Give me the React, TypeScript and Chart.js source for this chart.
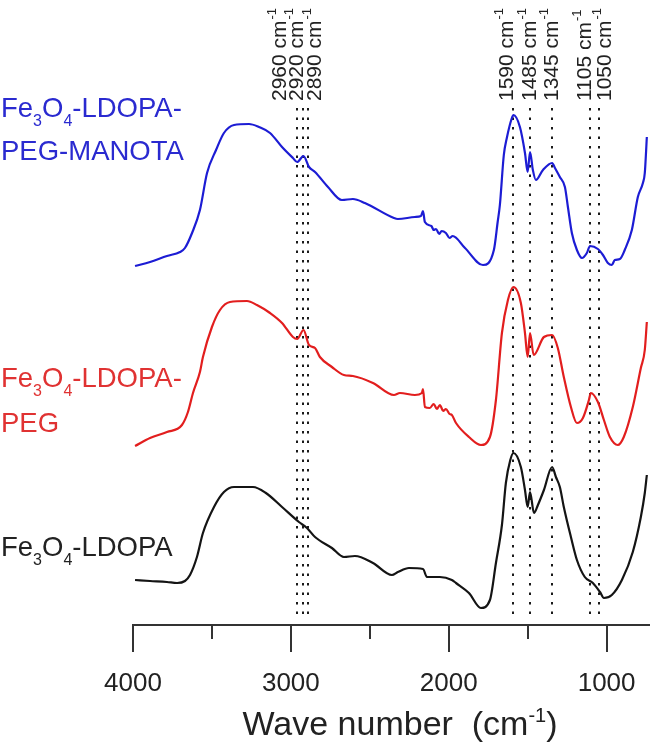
import React, { useEffect, useRef } from "react";
import { Chart, registerables } from "chart.js";

Chart.register(...registerables);

const FONT = "'Liberation Sans', Arial, Helvetica, sans-serif";

// Wavenumber (cm-1) and offset transmittance (a.u.)
const blueWn = [3987,3892,3785,3702,3671,3626,3576,3531,3474,3424,3360,3265,3202,3132,3056,2987,2960,2920,2885,2847,2765,2677,2607,2531,2347,2322,2214,2176,2163,2151,2110,2095,2081,2060,2045,2018,1995,1975,1897,1783,1714,1690,1676,1651,1632,1600,1590,1549,1517,1500,1485,1467,1448,1403,1345,1327,1296,1264,1245,1220,1188,1156,1125,1105,1055,1023,992,967,948,916,885,840,802,770,758,745];
const blueT = [359,363,369,373,377,392,415,452,475,492,500,501,498,492,478,467,463,469,458,453,438,425,426,422,407,406,408,409,414,403,399,395,396,391,394,392,387,389,377,360,375,403,420,470,487,507,510,498,472,453,473,455,445,455,462,457,448,438,418,392,375,367,372,379,376,370,362,360,365,366,375,395,428,442,452,488];

const redWn = [3987,3892,3785,3690,3652,3620,3576,3557,3500,3449,3386,3278,3215,3132,3056,2987,2960,2920,2885,2847,2816,2740,2664,2607,2480,2347,2309,2214,2170,2163,2151,2120,2095,2075,2056,2035,2018,1995,1980,1954,1872,1796,1739,1701,1663,1625,1590,1543,1517,1500,1485,1462,1397,1345,1309,1271,1226,1188,1150,1112,1100,1055,1017,979,929,891,834,783,758,745];
const redT = [179,187,193,200,213,232,253,268,298,315,323,324,320,312,302,288,286,295,280,277,268,258,250,249,242,230,232,230,232,236,218,217,221,216,220,214,216,211,210,202,188,180,188,225,292,325,338,322,292,268,292,270,288,290,277,248,218,202,207,225,232,223,205,188,180,188,218,257,275,303];

const blackWn = [3987,3892,3785,3721,3671,3639,3595,3557,3487,3424,3360,3240,3158,3056,2949,2898,2847,2740,2664,2594,2480,2360,2322,2252,2163,2138,2056,1980,1954,1872,1796,1739,1701,1663,1638,1610,1590,1543,1517,1500,1485,1460,1435,1397,1345,1321,1296,1271,1226,1188,1138,1087,1042,1017,967,903,834,783,758,745];
const blackT = [45,44,43,42,44,50,68,92,118,133,138,138,132,118,103,97,88,77,68,69,62,50,53,57,56,48,48,45,42,32,17,25,62,100,142,165,172,158,135,118,133,112,120,135,158,148,138,118,88,65,48,42,33,27,30,45,73,108,132,150];

const bandWn = [2960, 2920, 2890, 1590, 1485, 1345, 1105, 1050];
const bandLabelNudge = [-17, -6, 7, -6, 0, 0, -5, 7];
const majorTicks = [4000, 3000, 2000, 1000];
const minorTicks = [3500, 2500, 1500];

const X_MIN = 725;
const X_MAX = 4000;

type Part = [string, boolean];
const feLdopa: Part[] = [["Fe", false], ["3", true], ["O", false], ["4", true], ["-LDOPA", false]];
const feLdopaDash: Part[] = [["Fe", false], ["3", true], ["O", false], ["4", true], ["-LDOPA-", false]];

const seriesLabels = [
  { color: "#2a2ad0", lines: [feLdopaDash, [["PEG-MANOTA", false]] as Part[]], baselines: [117, 160] },
  { color: "#e03232", lines: [feLdopaDash, [["PEG", false]] as Part[]], baselines: [387, 432] },
  { color: "#222222", lines: [feLdopa], baselines: [556] },
];

const toPoints = (xs: number[], ys: number[]) => xs.map((x, i) => ({ x, y: ys[i] }));

function drawRich(ctx: CanvasRenderingContext2D, parts: Part[], x: number, y: number) {
  let cx = x;
  for (const [t, sub] of parts) {
    ctx.font = `${sub ? 16 : 27.5}px ${FONT}`;
    ctx.fillText(t, cx, y + (sub ? 9 : 0));
    cx += ctx.measureText(t).width;
  }
}

const overlay = {
  id: "overlay",
  beforeDatasetsDraw(chart: any) {
    const ctx: CanvasRenderingContext2D = chart.ctx;
    const xs = chart.scales.x;
    ctx.save();
    ctx.strokeStyle = "#1a1a1a";
    ctx.lineWidth = 2;
    ctx.setLineDash([2.5, 7]);
    bandWn.forEach((wn) => {
      const px = Math.round(xs.getPixelForValue(wn));
      ctx.beginPath();
      ctx.moveTo(px, 108);
      ctx.lineTo(px, 619);
      ctx.stroke();
    });
    ctx.restore();
  },
  afterDraw(chart: any) {
    const ctx: CanvasRenderingContext2D = chart.ctx;
    const xs = chart.scales.x;
    const bottom = chart.chartArea.bottom;
    ctx.save();
    // tick marks
    ctx.strokeStyle = "#333";
    ctx.lineWidth = 2;
    [...majorTicks, ...minorTicks].forEach((v) => {
      const px = Math.round(xs.getPixelForValue(v));
      const len = majorTicks.includes(v) ? 27 : 14;
      ctx.beginPath();
      ctx.moveTo(px, bottom);
      ctx.lineTo(px, bottom + len);
      ctx.stroke();
    });
    // band labels
    ctx.fillStyle = "#222";
    bandWn.forEach((wn, i) => {
      const cx = xs.getPixelForValue(wn) + bandLabelNudge[i];
      ctx.save();
      ctx.translate(cx, 101);
      ctx.rotate(-Math.PI / 2);
      ctx.textAlign = "left";
      ctx.textBaseline = "middle";
      ctx.font = `21px ${FONT}`;
      const main = `${wn} cm`;
      ctx.fillText(main, 0, 0);
      const w = ctx.measureText(main).width;
      ctx.font = `13px ${FONT}`;
      ctx.fillText("-1", w + 1, -8);
      ctx.restore();
    });
    // series labels
    ctx.textAlign = "left";
    ctx.textBaseline = "alphabetic";
    seriesLabels.forEach((s) => {
      ctx.fillStyle = s.color;
      s.lines.forEach((parts, i) => drawRich(ctx, parts, 1, s.baselines[i]));
    });
    // axis title
    ctx.fillStyle = "#222";
    const a = "Wave number  (cm";
    const b = "-1";
    const c = ")";
    ctx.font = `34px ${FONT}`;
    const wa = ctx.measureText(a).width;
    const wc = ctx.measureText(c).width;
    ctx.font = `20px ${FONT}`;
    const wb = ctx.measureText(b).width;
    const total = wa + wb + wc;
    const x0 = 400 - total / 2;
    const base = 735;
    ctx.font = `34px ${FONT}`;
    ctx.fillText(a, x0, base);
    ctx.font = `20px ${FONT}`;
    ctx.fillText(b, x0 + wa, base - 13);
    ctx.font = `34px ${FONT}`;
    ctx.fillText(c, x0 + wa + wb, base);
    ctx.restore();
  },
};

export default function App() {
  const ref = useRef<HTMLCanvasElement | null>(null);
  useEffect(() => {
    if (!ref.current) return;
    const line = (data: number[], wn: number[], color: string) => ({
      data: toPoints(wn, data),
      borderColor: color,
      borderWidth: 2.2,
      pointRadius: 0,
      cubicInterpolationMode: "monotone",
      fill: false,
    });
    const chart = new Chart(ref.current, {
      type: "line",
      data: {
        datasets: [
          line(blueT, blueWn, "#1c1cd4"),
          line(redT, redWn, "#e21e1e"),
          line(blackT, blackWn, "#141414"),
        ] as any,
      },
      options: {
        animation: false,
        responsive: true,
        maintainAspectRatio: false,
        layout: { padding: { left: 133, right: 0, top: 0, bottom: 0 } },
        plugins: { legend: { display: false }, tooltip: { enabled: false }, title: { display: false } },
        scales: {
          x: {
            type: "linear",
            reverse: true,
            min: X_MIN,
            max: X_MAX,
            grid: { display: false, drawTicks: false },
            border: { display: true, color: "#333", width: 2 },
            afterBuildTicks: (s: any) => {
              s.ticks = [...majorTicks].map((v) => ({ value: v }));
            },
            ticks: {
              autoSkip: false,
              maxRotation: 0,
              minRotation: 0,
              padding: 43,
              color: "#222",
              font: { size: 26, family: FONT },
              callback: (v: any) => String(v),
            },
            afterFit: (s: any) => {
              s.height = 122;
              s.paddingLeft = 0;
              s.paddingRight = 0;
            },
          },
          y: { display: false, min: 0, max: 625 },
        },
      },
      plugins: [overlay],
    } as any);
    return () => chart.destroy();
  }, []);
  return (
    <div style={{ position: "absolute", left: 0, top: 0, width: 650, height: 747, background: "#fff" }}>
      <canvas ref={ref} />
    </div>
  );
}
